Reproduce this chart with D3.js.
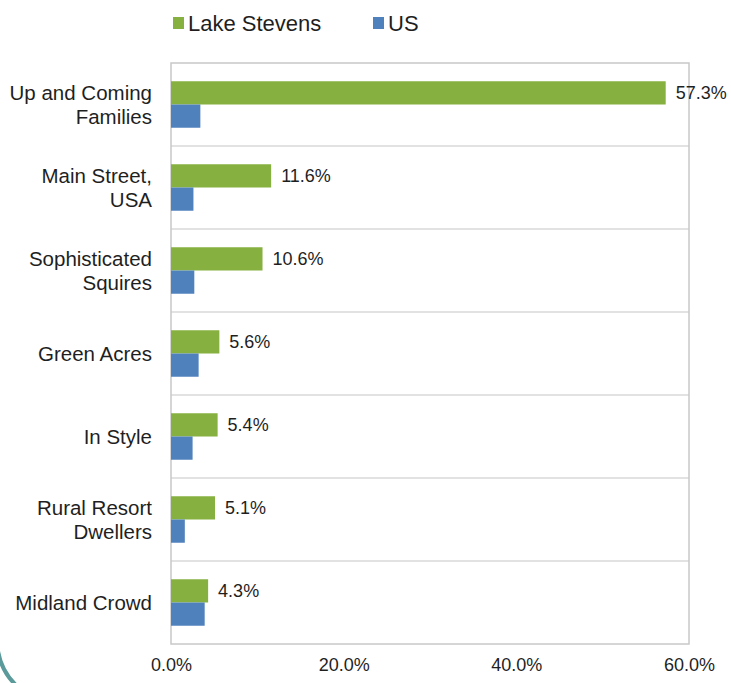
<!DOCTYPE html>
<html>
<head>
<meta charset="utf-8">
<script src="https://cdn.jsdelivr.net/npm/d3@7"></script>
<style>
  body { margin: 0; background: #fff; }
  text { font-family: "Liberation Sans", Arial, sans-serif; fill: #1f1f1f; }
</style>
</head>
<body>
<div id="chart"></div>
<script>
// data
var categories = ["Up and Coming Families", "Main Street, USA", "Sophisticated Squires",
  "Green Acres", "In Style", "Rural Resort Dwellers", "Midland Crowd"];
var seriesNames = ["Lake Stevens", "US"];
var lakeStevens = [57.3, 11.6, 10.6, 5.6, 5.4, 5.1, 4.3];
var us = [3.4, 2.6, 2.7, 3.2, 2.5, 1.6, 3.9];
var xTicks = [0, 20, 40, 60];
var colors = ["#86b03f", "#4f81bd"];

var svgWidth = 731, svgHeight = 683;
var margin = { top: 63, right: 42, bottom: 39, left: 171 };
var chartWidth = svgWidth - margin.left - margin.right;
var chartHeight = svgHeight - margin.top - margin.bottom;

var svg = d3.select("#chart").append("svg")
  .attr("width", svgWidth)
  .attr("height", svgHeight);

// decorative arc in the corner
var arcPath = d3.path();
arcPath.arc(60, 640, 63, 2.2, 3.0, false);
svg.append("path")
  .attr("d", arcPath.toString())
  .attr("fill", "none")
  .attr("stroke", "#5a9a9a")
  .attr("stroke-width", 4);

var chartGroup = svg.append("g")
  .attr("transform", `translate(${margin.left}, ${margin.top})`);

var x = d3.scaleLinear().domain([0, 60]).range([0, chartWidth]);
var y = d3.scaleBand().domain(categories).range([0, chartHeight])
  .paddingInner(0.44).paddingOuter(0.22);
var ySub = d3.scaleBand().domain(seriesNames).range([0, y.bandwidth()]);

// gridlines between categories
var step = y.step();
chartGroup.selectAll(".grid")
  .data(d3.range(1, categories.length))
  .enter().append("line")
  .attr("x1", 0).attr("x2", chartWidth)
  .attr("y1", d => d * step).attr("y2", d => d * step)
  .attr("stroke", "#d9d9d9").attr("stroke-width", 1.5);

// plot border
chartGroup.append("rect")
  .attr("x", 0).attr("y", 0)
  .attr("width", chartWidth).attr("height", chartHeight)
  .attr("fill", "none")
  .attr("stroke", "#c8c8c8").attr("stroke-width", 1.5);

var rows = categories.map((c, i) => ({ cat: c, values: [lakeStevens[i], us[i]] }));

var groups = chartGroup.selectAll(".cat")
  .data(rows)
  .enter().append("g")
  .attr("transform", d => `translate(0, ${y(d.cat)})`);

groups.selectAll("rect")
  .data(d => d.values.map((v, j) => ({ name: seriesNames[j], value: v, color: colors[j] })))
  .enter().append("rect")
  .attr("x", 0)
  .attr("y", d => ySub(d.name))
  .attr("width", d => x(d.value))
  .attr("height", ySub.bandwidth())
  .attr("fill", d => d.color);

// value labels for Lake Stevens
groups.append("text")
  .attr("x", d => x(d.values[0]) + 10)
  .attr("y", ySub("Lake Stevens") + ySub.bandwidth() / 2)
  .attr("dy", "0.35em")
  .attr("font-size", "18px")
  .text(d => d.values[0].toFixed(1) + "%");

// category labels, wrapped
chartGroup.selectAll(".catLabel")
  .data(categories)
  .enter().append("text")
  .attr("class", "catLabel")
  .attr("text-anchor", "end")
  .attr("font-size", "20.5px")
  .each(function(d) {
    var el = d3.select(this);
    var words = d.split(" ");
    var lines = [], line = [];
    words.forEach(function(w) {
      line.push(w);
      el.text(line.join(" "));
      if (textLen(el) > 152 && line.length > 1) {
        line.pop();
        lines.push(line.join(" "));
        line = [w];
      }
    });
    lines.push(line.join(" "));
    el.text(null);
    var cy = y(d) + y.bandwidth() / 2;
    var lh = 24;
    lines.forEach(function(l, k) {
      el.append("tspan")
        .attr("x", -19)
        .attr("y", cy + (k - (lines.length - 1) / 2) * lh)
        .attr("dy", "0.35em")
        .text(l);
    });
  });

function textLen(sel) { return sel.node().getComputedTextLength(); }

// x axis labels
var bottomAxis = d3.axisBottom(x)
  .tickValues(xTicks)
  .tickSize(0)
  .tickPadding(14)
  .tickFormat(d => d.toFixed(1) + "%");

var xAxisG = chartGroup.append("g")
  .attr("transform", `translate(0, ${chartHeight})`)
  .call(bottomAxis);
xAxisG.select(".domain").remove();
xAxisG.selectAll("text")
  .attr("font-size", "18px")
  .attr("font-family", "Liberation Sans, Arial, sans-serif")
  .attr("fill", "#1f1f1f");

// legend
var legendX = [173, 373];
var legend = svg.selectAll(".legend")
  .data(seriesNames)
  .enter().append("g")
  .attr("transform", (d, i) => `translate(${legendX[i]}, 23)`);

legend.append("rect")
  .attr("x", 0).attr("y", -6)
  .attr("width", 11).attr("height", 12)
  .attr("fill", (d, i) => colors[i]);

legend.append("text")
  .attr("x", 15)
  .attr("dy", "0.36em")
  .attr("font-size", "22px")
  .text(d => d);
</script>
</body>
</html>
